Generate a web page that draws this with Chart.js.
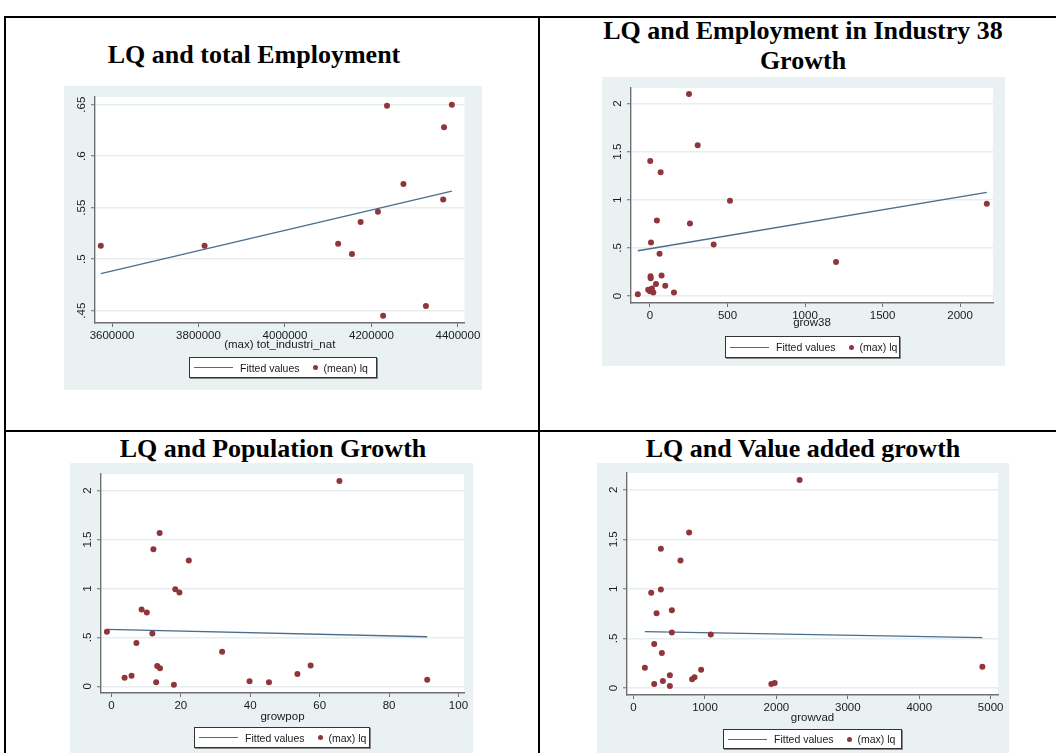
<!DOCTYPE html>
<html>
<head>
<meta charset="utf-8">
<script src="https://cdn.jsdelivr.net/npm/chart.js@4/dist/chart.umd.min.js"></script>
<style>
  html, body { margin: 0; padding: 0; background: #fff; }
  body { width: 1056px; height: 753px; position: relative; overflow: hidden; }
  .rule { position: absolute; background: #000; }
  .title { position: absolute; font-family: "Liberation Serif", "Times New Roman", serif; font-weight: bold;
           font-size: 26px; line-height: 30px; color: #000; text-align: center; white-space: nowrap; transform: translateX(-50%); }
  .panel { position: absolute; }
  .panel canvas { position: absolute; left: 0; top: 0; }
  .legend { position: absolute; box-sizing: border-box; border: 1px solid #333; background: #fff;
            box-shadow: 1px 1px 0 #8a8a8a; display: flex; align-items: center; white-space: nowrap; overflow: hidden;
            font-family: "Liberation Sans", Arial, sans-serif; font-size: 10.5px; color: #1a1a1a; padding: 0 0 0 4px; }
  .legend span { flex: none; }
  .legend .ln { width: 39px; height: 0; border-top: 1.4px solid #4a6d8d; margin-right: 7px; }
  .legend .dot { width: 5px; height: 5px; border-radius: 50%; background: #90353b; margin: 0 6px 0 13px; }
</style>
</head>
<body>
<!-- table rules -->
<div class="rule" style="left:4px; top:16px; width:1052px; height:2px;"></div>
<div class="rule" style="left:4px; top:16px; width:2px; height:737px;"></div>
<div class="rule" style="left:538px; top:16px; width:2px; height:737px;"></div>
<div class="rule" style="left:4px; top:430px; width:1052px; height:2px;"></div>

<div class="title" style="left:254px; top:40px;">LQ and total Employment</div>
<div class="title" style="left:803px; top:16px;">LQ and Employment in Industry 38</div>
<div class="title" style="left:803px; top:46px;">Growth</div>
<div class="title" style="left:273px; top:434px;">LQ and Population Growth</div>
<div class="title" style="left:803px; top:434px;">LQ and Value added growth</div>

<div id="p1" class="panel"></div>
<div id="p2" class="panel"></div>
<div id="p3" class="panel"></div>
<div id="p4" class="panel"></div>

<script>
// ---- LQ and total employment (13 regions) ----
const empTotal = [3574000, 3814000, 4123000, 4155000, 4175000, 4215000, 4227000, 4236000, 4274000, 4326000, 4366000, 4368000, 4386000];
const empLq    = [0.513, 0.513, 0.515, 0.505, 0.536, 0.546, 0.445, 0.649, 0.573, 0.4545, 0.558, 0.628, 0.650];
const empFitX  = [3574000, 4386000];
const empFitY  = [0.486, 0.566];
const empXTicks = [3600000, 3800000, 4000000, 4200000, 4400000];
const empYTicks = [0.45, 0.5, 0.55, 0.6, 0.65];
const empYLabels = ['.45', '.5', '.55', '.6', '.65'];

// ---- LQ and employment growth in industry 38 ----
const grow38 = [252, 308, 2, 69, 516, 2172, 45, 258, 7, 411, 62, 1200, 75, 4, 5, 39, 99, -11, 13, 0, 22, 155, -78];
const lq38   = [2.100, 1.568, 1.402, 1.285, 0.991, 0.960, 0.784, 0.753, 0.556, 0.535, 0.439, 0.352, 0.214, 0.204, 0.183, 0.124, 0.107, 0.066, 0.078, 0.048, 0.035, 0.036, 0.017];
const fit38X = [-78, 2172];
const fit38Y = [0.470, 1.078];
const x38Ticks = [0, 500, 1000, 1500, 2000];

// ---- LQ and population growth ----
const growpop = [65.7, 13.9, 12.1, 22.3, 18.4, 19.6, 8.7, 10.2, -1.3, 11.8, 7.2, 31.9, 57.4, 13.2, 14.0, 53.6, 5.8, 3.8, 91.0, 39.8, 12.9, 45.4, 18.0];
const lqPop   = [2.099, 1.568, 1.401, 1.286, 0.993, 0.959, 0.786, 0.755, 0.558, 0.541, 0.442, 0.354, 0.214, 0.207, 0.184, 0.126, 0.109, 0.088, 0.068, 0.051, 0.041, 0.041, 0.017];
const fitPopX = [-1.3, 91.0];
const fitPopY = [0.582, 0.507];
const popXTicks = [0, 20, 40, 60, 80, 100];

// ---- LQ and value added growth ----
const growvad = [2325, 778, 382, 657, 247, 382, 536, 322, 536, 1081, 289, 396, 158, 4884, 946, 508, 853, 820, 410, 1976, 1929, 289, 508];
const lqVad   = [2.098, 1.569, 1.404, 1.286, 0.960, 0.993, 0.785, 0.754, 0.559, 0.539, 0.444, 0.354, 0.205, 0.215, 0.185, 0.128, 0.108, 0.088, 0.071, 0.050, 0.040, 0.040, 0.020];
const fitVadX = [158, 4884];
const fitVadY = [0.569, 0.508];
const vadXTicks = [0, 1000, 2000, 3000, 4000, 5000];

// shared LQ axis for the three growth plots
const lqTicks  = [0, 0.5, 1, 1.5, 2];
const lqLabels = ['0', '.5', '1', '1.5', '2'];

const BG = '#e9f1f3';
const MARKER = '#90353b';
const FITLINE = '#4a6d8d';
const AXIS = '#707070';
const TEXT = '#1a1a1a';
const FONT = '"Liberation Sans", Arial, sans-serif';
const FSIZE = 11.5;
Chart.defaults.font.family = FONT;
Chart.defaults.font.size = FSIZE;
Chart.defaults.color = TEXT;

// panel background, white plot region, rotated y tick labels
const stataLook = {
  id: 'stataLook',
  beforeDraw(chart) {
    const {ctx, chartArea: a} = chart;
    ctx.save();
    ctx.fillStyle = BG;
    ctx.fillRect(0, 0, chart.width, chart.height);
    ctx.fillStyle = '#fff';
    ctx.fillRect(a.left, a.top, a.right - a.left, a.bottom - a.top);
    ctx.restore();
  },
  afterDraw(chart, args, opts) {
    const y = chart.scales.y;
    const {ctx} = chart;
    ctx.save();
    ctx.font = FSIZE + 'px ' + FONT;
    ctx.fillStyle = TEXT;
    ctx.textAlign = 'center';
    ctx.textBaseline = 'bottom';
    y.ticks.forEach((t, i) => {
      const py = y.getPixelForValue(t.value);
      ctx.save();
      ctx.translate(y.right - 7, py);
      ctx.rotate(-Math.PI / 2);
      ctx.fillText(opts.labels[i], 0, 0);
      ctx.restore();
    });
    ctx.restore();
  }
};

function scatterPanel(id, g, d) {
  const host = document.getElementById(id);
  const w = g.bx1 - g.bx0, h = g.by1 - g.by0;
  host.style.left = g.bx0 + 'px';
  host.style.top = g.by0 + 'px';
  host.style.width = w + 'px';
  host.style.height = h + 'px';
  const cv = document.createElement('canvas');
  cv.width = w; cv.height = h;
  cv.style.width = w + 'px'; cv.style.height = h + 'px';
  host.appendChild(cv);

  const titleBottom = g.titleY + FSIZE * 0.6;
  const pts = d.xs.map((x, i) => ({x: x, y: d.ys[i]}));
  const fit = d.fitX.map((x, i) => ({x: x, y: d.fitY[i]}));

  new Chart(cv, {
    type: 'scatter',
    data: {
      datasets: [
        { type: 'line', label: 'Fitted values', data: fit, borderColor: FITLINE, borderWidth: 1.3,
          pointRadius: 0, fill: false, tension: 0, order: 2 },
        { label: d.seriesName, data: pts, backgroundColor: MARKER, borderColor: MARKER,
          borderWidth: 0, pointRadius: 3, pointHoverRadius: 3, order: 1 }
      ]
    },
    options: {
      responsive: false, animation: false, devicePixelRatio: 1,
      layout: { autoPadding: false,
        padding: { left: 0, top: g.py0 - g.by0, right: g.bx1 - g.px1, bottom: g.by1 - titleBottom } },
      plugins: { legend: { display: false }, tooltip: { enabled: false },
                 stataLook: { labels: d.yLabels } },
      scales: {
        x: {
          type: 'linear', min: g.xmin, max: g.xmax,
          afterBuildTicks: s => { s.ticks = d.xTicks.map(v => ({value: v})); },
          afterFit: s => { s.height = titleBottom - g.py1; },
          ticks: { padding: 1.5, maxRotation: 0, autoSkip: false, color: TEXT,
                   callback: v => String(v) },
          grid: { drawOnChartArea: false, tickLength: 4, tickColor: AXIS, tickWidth: 1 },
          border: { display: true, color: AXIS, width: 1.4 },
          title: { display: true, text: d.xTitle, padding: 0, font: { size: FSIZE }, color: TEXT }
        },
        y: {
          type: 'linear', min: g.ymin, max: g.ymax,
          afterBuildTicks: s => { s.ticks = d.yTicks.map(v => ({value: v})); },
          afterFit: s => { s.width = g.px0 - g.bx0; },
          ticks: { color: 'rgba(0,0,0,0)', autoSkip: false },
          grid: { color: '#e6eef0', lineWidth: 1.5, tickLength: 4, tickColor: AXIS, tickWidth: 1 },
          border: { display: true, color: AXIS, width: 1.4 }
        }
      }
    },
    plugins: [stataLook]
  });

  const lg = document.createElement('div');
  lg.className = 'legend';
  lg.style.left = (g.lx0 - g.bx0) + 'px';
  lg.style.top = (g.ly0 - g.by0) + 'px';
  lg.style.width = (g.lx1 - g.lx0) + 'px';
  lg.style.height = (g.ly1 - g.ly0) + 'px';
  lg.innerHTML = '<span class="ln"></span><span>Fitted values</span><span class="dot"></span><span>' + d.seriesName + '</span>';
  host.appendChild(lg);
}

const panels = [
  ['p1',
   { bx0: 64, by0: 86, bx1: 482, by1: 390, px0: 95, py0: 97, px1: 470, py1: 323, titleY: 345,
     xmin: 3560570, xmax: 4415270, ymin: 0.438, ymax: 0.6575, lx0: 189, ly0: 357, lx1: 377, ly1: 378 },
   { xs: empTotal, ys: empLq, fitX: empFitX, fitY: empFitY, xTicks: empXTicks, yTicks: empYTicks,
     yLabels: empYLabels, xTitle: '(max) tot_industri_nat', seriesName: '(mean) lq' }],
  ['p2',
   { bx0: 602, by0: 77, bx1: 1005, by1: 366, px0: 631, py0: 88, px1: 993, py1: 303, titleY: 323,
     xmin: -122, xmax: 2212, ymin: -0.073, ymax: 2.162, lx0: 725, ly0: 336, lx1: 900, ly1: 358 },
   { xs: grow38, ys: lq38, fitX: fit38X, fitY: fit38Y, xTicks: x38Ticks, yTicks: lqTicks,
     yLabels: lqLabels, xTitle: 'grow38', seriesName: '(max) lq' }],
  ['p3',
   { bx0: 70, by0: 463, bx1: 473, by1: 760, px0: 101, py0: 474, px1: 464, py1: 693, titleY: 717,
     xmin: -3, xmax: 101.6, ymin: -0.068, ymax: 2.17, lx0: 194, ly0: 727, lx1: 370, ly1: 748 },
   { xs: growpop, ys: lqPop, fitX: fitPopX, fitY: fitPopY, xTicks: popXTicks, yTicks: lqTicks,
     yLabels: lqLabels, xTitle: 'growpop', seriesName: '(max) lq' }],
  ['p4',
   { bx0: 597, by0: 463, bx1: 1009, by1: 760, px0: 627, py0: 473, px1: 998, py1: 695, titleY: 718,
     xmin: -92, xmax: 5103, ymin: -0.071, ymax: 2.169, lx0: 723, ly0: 729, lx1: 902, ly1: 749 },
   { xs: growvad, ys: lqVad, fitX: fitVadX, fitY: fitVadY, xTicks: vadXTicks, yTicks: lqTicks,
     yLabels: lqLabels, xTitle: 'growvad', seriesName: '(max) lq' }]
];

panels.forEach(([id, g, d]) => scatterPanel(id, g, d));
</script>
</body>
</html>
